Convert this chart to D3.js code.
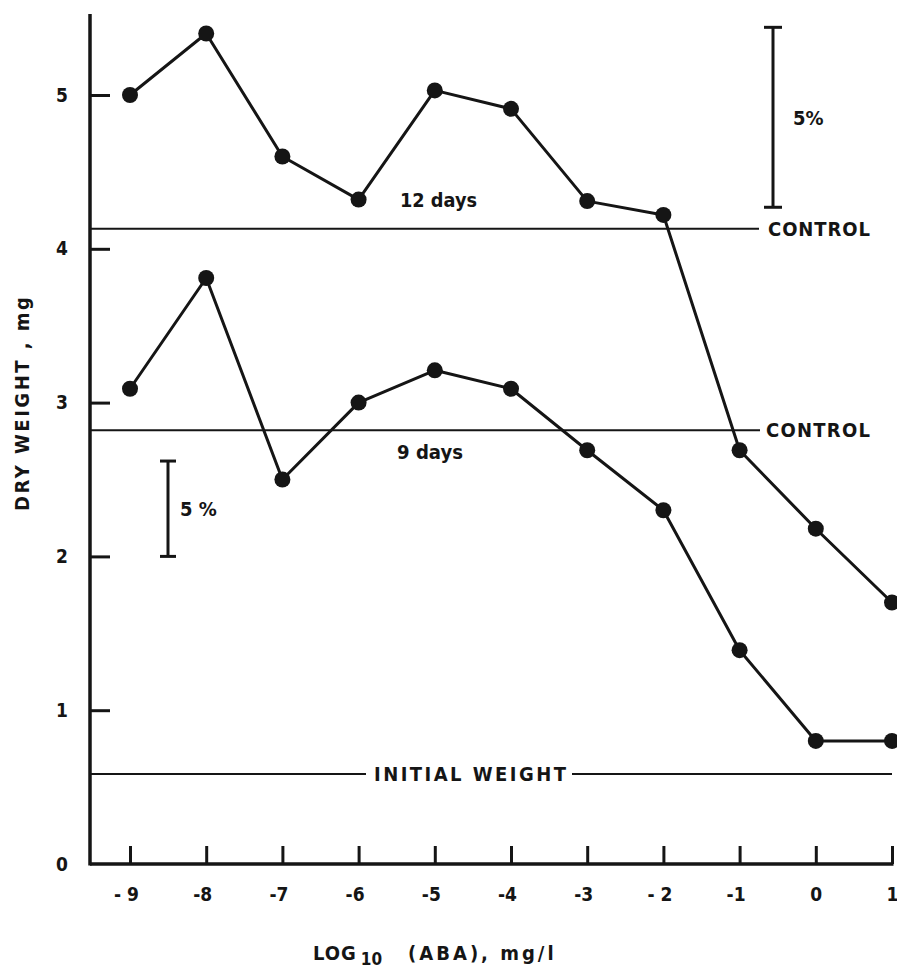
<!DOCTYPE html>
<html>
<head>
<meta charset="utf-8">
<script src="https://cdn.jsdelivr.net/npm/d3@7"></script>
<style>
  body { margin: 0; background: #fff; }
  svg text { font-family: "DejaVu Sans Condensed", "DejaVu Sans", sans-serif; font-stretch: condensed; font-weight: bold; fill: #151515; }
</style>
</head>
<body>
<div id="chart"></div>
<script>
// log10 ABA concentration (mg/l)
var doses = [-9, -8, -7, -6, -5, -4, -3, -2, -1, 0, 1];
var doseLabels = ["- 9", "-8", "-7", "-6", "-5", "-4", "-3", "- 2", "-1", "0", "1"];
// dry weight, mg
var days12 = [5.0, 5.40, 4.60, 4.32, 5.03, 4.91, 4.31, 4.22, 2.69, 2.18, 1.70];
var days9 = [3.09, 3.81, 2.50, 3.00, 3.21, 3.09, 2.69, 2.30, 1.39, 0.80, 0.80];
var yTicks = [0, 1, 2, 3, 4, 5];
var control12 = 4.13;
var control9 = 2.82;
var initialWeight = 0.585;
// 5% bars [from, to] in mg
var bar12 = [4.27, 5.44];
var bar9 = [2.0, 2.62];

var W = 897, H = 971;
var axisX = 90, axisTop = 14;

var svg = d3.select("#chart").append("svg")
    .attr("width", W)
    .attr("height", H);

var x = d3.scaleLinear().domain([-9, 1]).range([130, 892]);
var y = d3.scaleLinear().domain([0, 5]).range([864, 95]);

var ink = "#151515";

// axes
svg.append("g")
    .attr("transform", "translate(0," + y(0) + ")")
    .call(d3.axisBottom(x).tickValues(doses)
      .tickFormat(function(d, i) { return doseLabels[i]; })
      .tickSizeInner(-18).tickSizeOuter(0).tickPadding(24))
    .call(function(g) {
      g.select(".domain").remove();
      g.selectAll("line").attr("stroke", ink).attr("stroke-width", 3);
      g.selectAll("text").attr("font-size", 19).attr("font-family", null).attr("fill", ink)
        .attr("dx", function(d, i) { return doseLabels[i].length > 1 ? -4 : 0; });
    });

svg.append("g")
    .attr("transform", "translate(" + axisX + ",0)")
    .call(d3.axisLeft(y).tickValues(yTicks).tickFormat(d3.format("d"))
      .tickSizeInner(-20).tickSizeOuter(0).tickPadding(22))
    .call(function(g) {
      g.select(".domain").remove();
      g.selectAll("line").attr("stroke", ink).attr("stroke-width", 3);
      g.selectAll("text").attr("font-size", 19).attr("font-family", null).attr("fill", ink);
      g.selectAll(".tick").filter(function(d) { return d == 0; }).select("line").remove();
    });

svg.append("line")
    .attr("x1", axisX).attr("x2", axisX)
    .attr("y1", axisTop).attr("y2", y(0) + 1.5)
    .attr("stroke", ink).attr("stroke-width", 3.5);
svg.append("line")
    .attr("x1", axisX).attr("x2", x(1) + 1.5)
    .attr("y1", y(0)).attr("y2", y(0))
    .attr("stroke", ink).attr("stroke-width", 3.5);

// reference lines
function refLine(v, xEnd) {
  svg.append("line")
      .attr("x1", axisX).attr("x2", xEnd)
      .attr("y1", y(v)).attr("y2", y(v))
      .attr("stroke", ink).attr("stroke-width", 2);
}
refLine(control12, 759);
refLine(control9, 760);

svg.append("text").text("CONTROL")
    .attr("x", 768).attr("y", y(control12)).attr("dy", "0.36em")
    .attr("font-size", 20).attr("textLength", 102).attr("lengthAdjust", "spacing");
svg.append("text").text("CONTROL")
    .attr("x", 766).attr("y", y(control9)).attr("dy", "0.36em")
    .attr("font-size", 20).attr("textLength", 104).attr("lengthAdjust", "spacing");

svg.append("line")
    .attr("x1", axisX).attr("x2", 366)
    .attr("y1", y(initialWeight)).attr("y2", y(initialWeight))
    .attr("stroke", ink).attr("stroke-width", 2);
svg.append("line")
    .attr("x1", 572).attr("x2", x(1))
    .attr("y1", y(initialWeight)).attr("y2", y(initialWeight))
    .attr("stroke", ink).attr("stroke-width", 2);
svg.append("text").text("INITIAL WEIGHT")
    .attr("x", 374).attr("y", y(initialWeight)).attr("dy", "0.36em")
    .attr("font-size", 20).attr("textLength", 192).attr("lengthAdjust", "spacing");

// 5% bars
function scaleBar(r, bx, capW, label, lx) {
  var g = svg.append("g").attr("stroke", ink).attr("stroke-width", 3);
  g.append("line").attr("x1", bx).attr("x2", bx).attr("y1", y(r[0])).attr("y2", y(r[1]));
  g.append("line").attr("x1", bx - capW / 2).attr("x2", bx + capW / 2).attr("y1", y(r[0])).attr("y2", y(r[0]));
  g.append("line").attr("x1", bx - capW / 2).attr("x2", bx + capW / 2).attr("y1", y(r[1])).attr("y2", y(r[1]));
  svg.append("text").text(label)
      .attr("x", lx).attr("y", y((r[0] + r[1]) / 2)).attr("dy", "0.36em")
      .attr("font-size", 20);
}
scaleBar(bar12, 773, 18, "5%", 793);
scaleBar(bar9, 168, 16, "5 %", 180);

// series
var line = d3.line()
    .x(function(d) { return x(d[0]); })
    .y(function(d) { return y(d[1]); });

[days12, days9].forEach(function(s) {
  var pts = doses.map(function(d, i) { return [d, s[i]]; });
  svg.append("path")
      .datum(pts)
      .attr("d", line)
      .attr("fill", "none")
      .attr("stroke", ink)
      .attr("stroke-width", 3)
      .attr("stroke-linejoin", "round");
  svg.selectAll(null)
      .data(pts)
    .enter().append("circle")
      .attr("cx", function(d) { return x(d[0]); })
      .attr("cy", function(d) { return y(d[1]); })
      .attr("r", 8)
      .attr("fill", ink);
});

// series labels
svg.append("text").text("12 days")
    .attr("x", 400).attr("y", 200).attr("dy", "0.36em")
    .attr("font-size", 20).attr("textLength", 77).attr("lengthAdjust", "spacingAndGlyphs");
svg.append("text").text("9 days")
    .attr("x", 397).attr("y", 452).attr("dy", "0.36em")
    .attr("font-size", 20).attr("textLength", 66).attr("lengthAdjust", "spacingAndGlyphs");

// axis titles
svg.append("text")
    .attr("transform", "translate(29,404) rotate(-90)")
    .attr("text-anchor", "middle")
    .attr("font-size", 20)
    .attr("textLength", 214).attr("lengthAdjust", "spacing")
    .text("DRY WEIGHT , mg");

var xt = svg.append("text")
    .attr("x", 313).attr("y", 960)
    .attr("font-size", 20);
xt.append("tspan").attr("letter-spacing", 1).text("LOG");
xt.append("tspan").attr("dx", 4).attr("dy", 5).attr("font-size", 17).text("10");
xt.append("tspan").attr("dx", 26).attr("dy", -5).attr("letter-spacing", 3).text("(ABA),  mg/l");
</script>
</body>
</html>
